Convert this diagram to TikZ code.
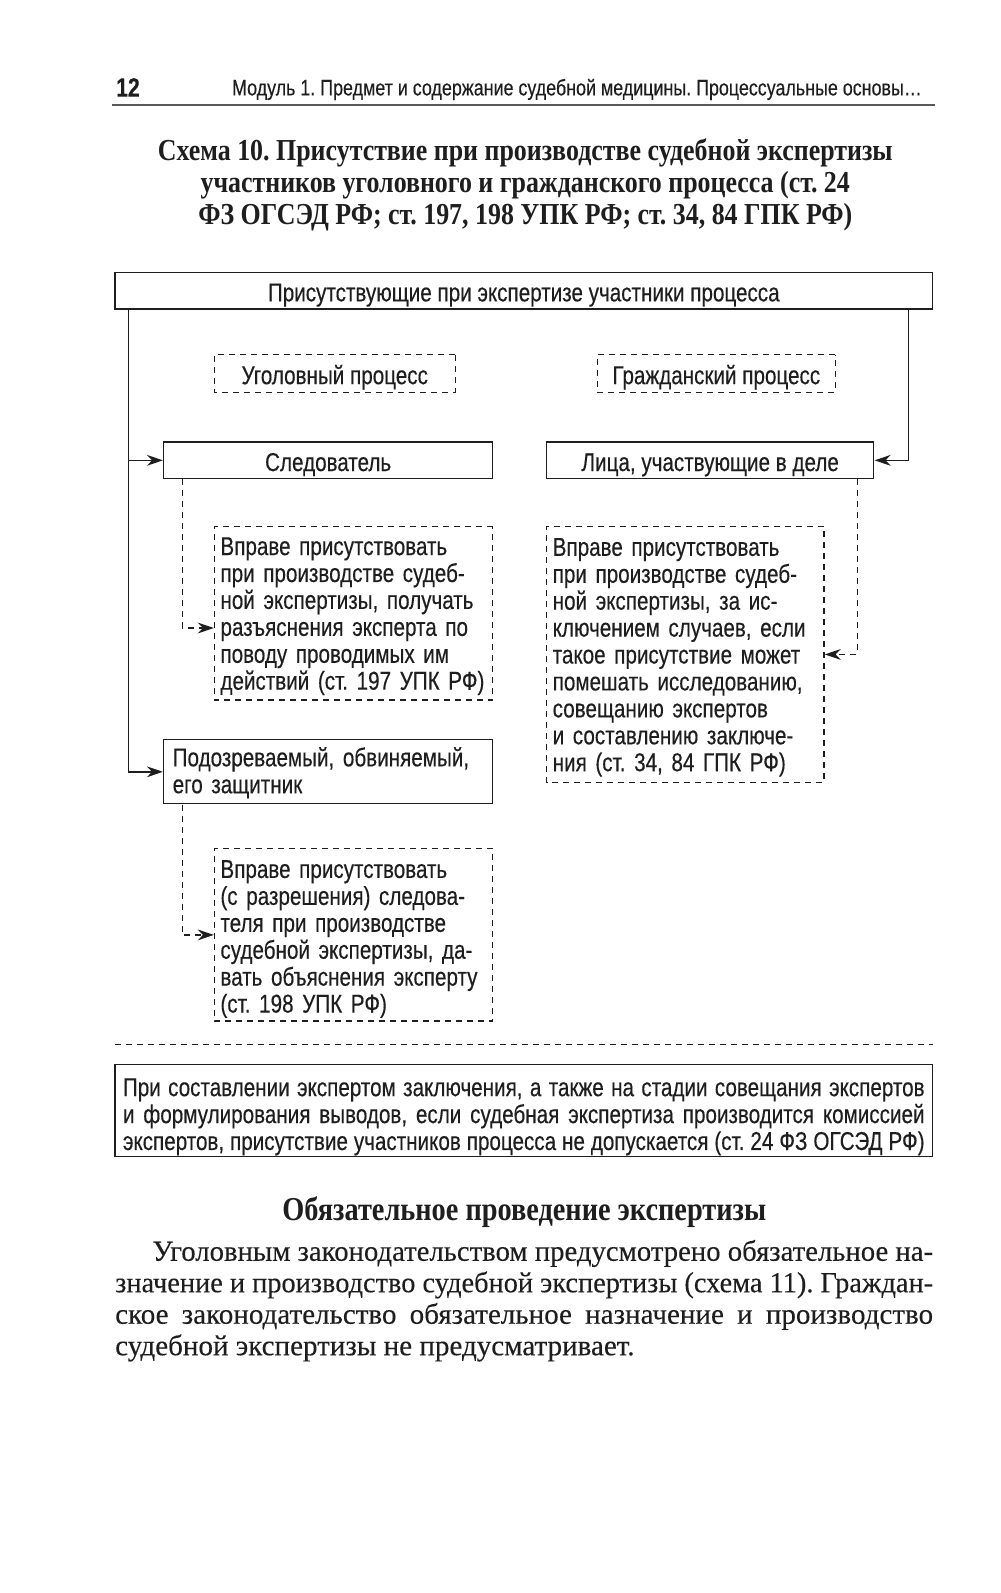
\documentclass[tikz,border=0pt]{standalone}
\usepackage{fontspec}
\usepackage{graphicx}
\setmainfont{Liberation Serif}[FakeBold=0.2]
\newfontfamily\cond{Liberation Sans}[FakeStretch=0.80,FakeBold=0.3]
\newfontfamily\tcond{Liberation Serif}[FakeStretch=0.85]
\usetikzlibrary{arrows.meta,calc}
\definecolor{ink}{HTML}{1E1E1E}
\newsavebox\fitbox
\newcommand\fitline[2]{\sbox\fitbox{#2}\ifdim\wd\fitbox>#1\relax\resizebox{#1}{\height}{\usebox\fitbox}\else\hbox to #1{#2}\fi}
\newcommand\topstrut[1]{\rule{0pt}{#1}}
\frenchspacing
\begin{document}
\begin{tikzpicture}[x=0.5pt,y=-0.5pt,
  every node/.style={inner sep=0pt, text=ink},
  cf/.style={font=\cond\fontsize{12.7}{13.25}\selectfont},
  sbox/.style={draw=ink, line width=0.7pt, cf},
  dbox/.style={draw=ink, line width=0.6pt, dash pattern=on 3pt off 2.5pt, cf},
  one/.style={text height=10.6pt, text depth=0pt},
  arr/.style={draw=ink, line width=0.7pt, -{Stealth[length=8pt,width=5.4pt,inset=2.6pt]}},
  darr/.style={arr, line width=0.6pt, dash pattern=on 3pt off 2.5pt},
  dline/.style={draw=ink, line width=0.6pt, dash pattern=on 3pt off 2.5pt}
]
\useasboundingbox[fill=white] (0,0) rectangle (1000,1593);
\begin{scope}[scale=1.016, transform shape]
% header
\node[font=\cond\bfseries\fontsize{13}{14}\selectfont] (pg) at (126,86) {12};
\node[font=\cond\fontsize{11}{13}\selectfont, anchor=west] (hd) at (228,88) {Модуль 1. Предмет и содержание судебной медицины. Процессуальные основы\dots};
\draw[gray!70!black, line width=1pt] (110,103) -- (920,103);

% title
\node[font=\tcond\bfseries\fontsize{15}{15.6}\selectfont, align=center] (title) at (517,182)
  {Схема 10. Присутствие при производстве судебной экспертизы\\
   участников уголовного и гражданского процесса (ст. 24\\
   ФЗ ОГСЭД РФ; ст. 197, 198 УПК РФ; ст. 34, 84 ГПК РФ)};

% boxes
\node[sbox, one, minimum width=402.5pt, minimum height=18pt] (top) at (515.5,286)
  {Присутствующие при экспертизе участники процесса};
\node[dbox, one, minimum width=118.5pt, minimum height=18.5pt] (ugol) at (329.5,367.5)
  {Уголовный процесс};
\node[dbox, one, minimum width=117pt, minimum height=18.5pt] (grazh) at (705,367.5)
  {Гражданский процесс};
\node[sbox, one, minimum width=162pt, minimum height=18pt] (sled) at (323,453)
  {Следователь};
\node[sbox, one, minimum width=161pt, minimum height=18pt] (lica) at (699,453)
  {Лица, участвующие в деле};

\node[dbox, minimum width=137pt, minimum height=85.5pt, align=left, text width=131pt] (b1) at (348,603.5)
  {\topstrut{11.7pt}Вправе присутствовать\\
   при производстве судеб-\\
   ной экспертизы, получать\\
   разъяснения эксперта по\\
   поводу проводимых им\\
   \mbox{действий (ст. 197 УПК РФ)}};

\node[dbox, minimum width=136.5pt, minimum height=126pt, align=left, text width=130.5pt] (b2) at (674.5,644)
  {\topstrut{11.7pt}Вправе присутствовать\\
   при производстве судеб-\\
   ной экспертизы, за ис-\\
   ключением случаев, если\\
   такое присутствие может\\
   помешать исследованию,\\
   совещанию экспертов\\
   и составлению заключе-\\
   ния (ст. 34, 84 ГПК РФ)};

\node[sbox, minimum width=162pt, minimum height=31.5pt, align=left, text width=153pt] (podoz) at (323,759.5)
  {\topstrut{10.5pt}Подозреваемый, обвиняемый,\\
   его защитник};

\node[dbox, minimum width=137pt, minimum height=85pt, align=left, text width=131pt] (b3) at (348,920)
  {\topstrut{13pt}Вправе присутствовать\\
   (с разрешения) следова-\\
   теля при производстве\\
   судебной экспертизы, да-\\
   \mbox{вать объяснения эксперту}\\
   (ст. 198 УПК РФ)};

% connectors
\coordinate (lt) at ($(top.south west)+(14,0)$);
\coordinate (rt) at ($(top.south east)+(-25,0)$);
\draw[arr] (lt) |- (sled.west);
\draw[arr] (lt) |- (podoz.west);
\draw[arr] (rt) |- (lica.east);
\draw[darr] ($(sled.south west)+(19,0)$) |- ([yshift=-7.25pt]b1.west);
\draw[darr] ($(podoz.south west)+(19,0)$) |- (b3.west);
\draw[darr] ($(lica.south east)+(-17,0)$) |- (b2.east);

% separator
\coordinate (sepL) at (113,1028);
\coordinate (sepR) at (918,1028);
\draw[dline] (sepL) -- (sepR);

\node[sbox, minimum width=402.5pt, minimum height=45pt, align=left] (bot) at (515.5,1093)
  {\topstrut{15pt}\fitline{394.5pt}{При составлении экспертом заключения, а также на стадии совещания экспертов}\\
   \fitline{394.5pt}{и формулирования выводов, если судебная экспертиза производится комиссией}\\
   \fitline{394.5pt}{экспертов, присутствие участников процесса не допускается (ст. 24 ФЗ ОГСЭД РФ)}};

% heading + paragraph
\node[font=\tcond\bfseries\fontsize{16.4}{17}\selectfont] (h2) at (516,1193) {Обязательное проведение экспертизы};
\node[font=\fontsize{14.3}{15.5}\selectfont, align=left, anchor=north west] (para) at (113,1220)
  {\fitline{402.5pt}{\hskip18.5pt Уголовным законодательством предусмотрено обязательное на-}\\
   \fitline{402.5pt}{значение и производство судебной экспертизы (схема 11). Граждан-}\\
   \fitline{402.5pt}{ское законодательство обязательное назначение и производство}\\
   судебной экспертизы не предусматривает.};
\end{scope}
\end{tikzpicture}
\end{document}
